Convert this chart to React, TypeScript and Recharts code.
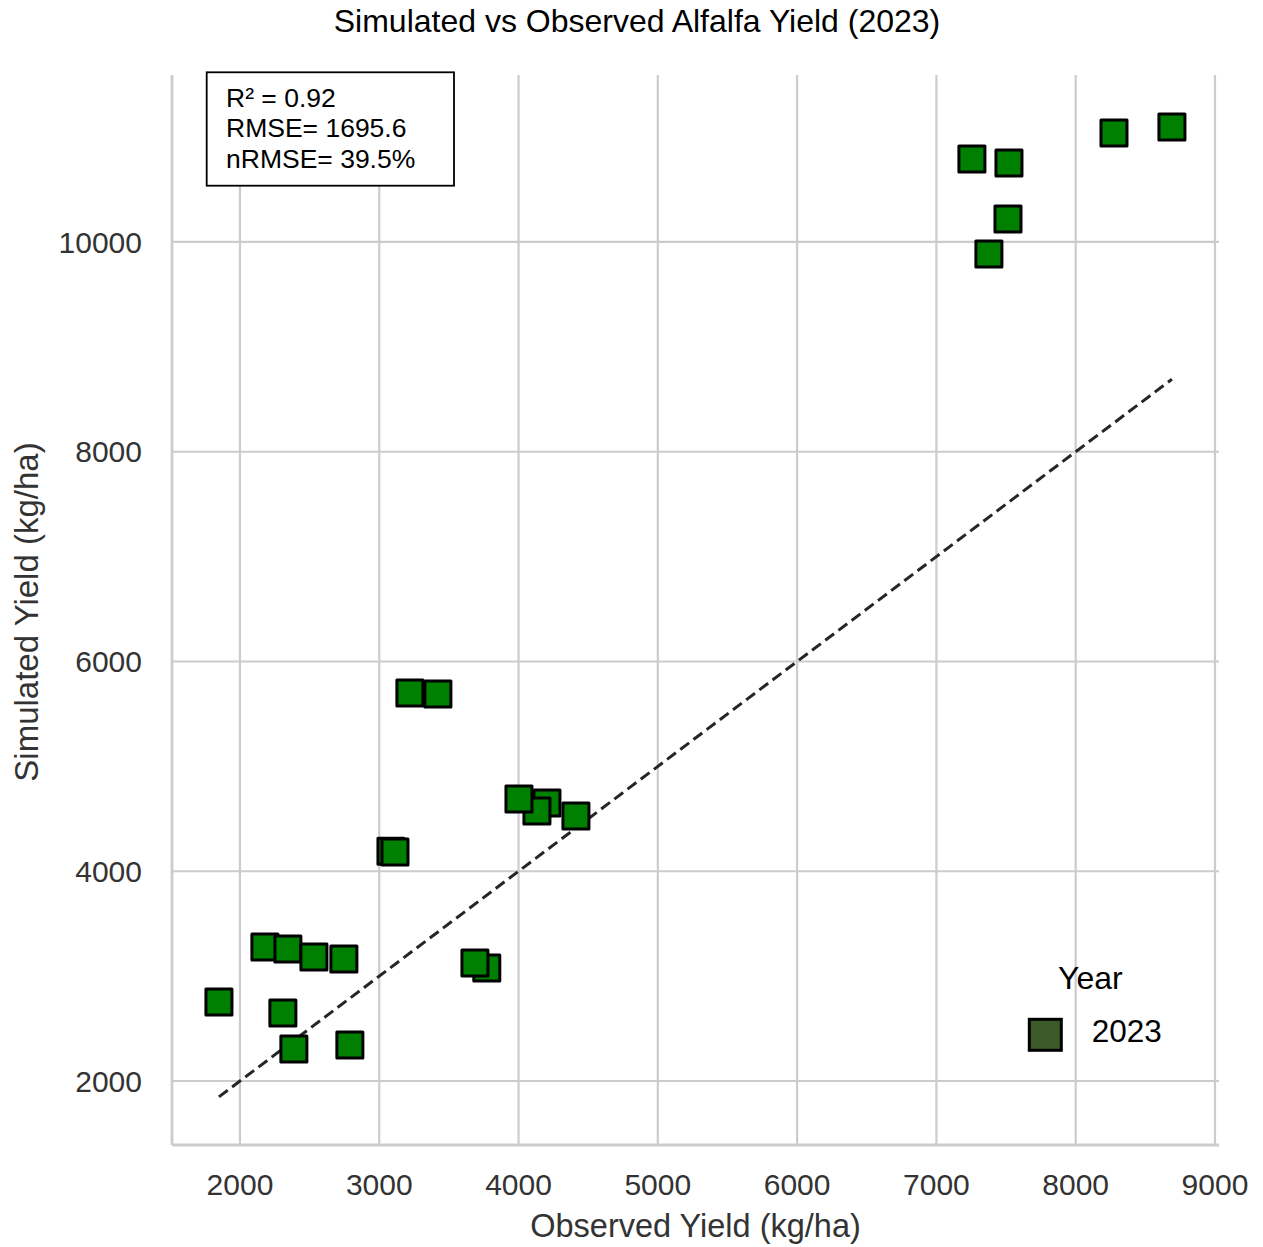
import React from 'react';
import { ScatterChart, Scatter, XAxis, YAxis, CartesianGrid, ReferenceLine } from 'recharts';

// observed vs simulated yield (kg/ha), 2023 season
const observed = [1849, 2179, 2344, 2531, 2746, 2308, 2387, 2789, 3084, 3113, 3220, 3421, 3772, 3687, 4204, 4132, 4003, 4412, 7255, 7521, 7514, 7377, 8275, 8691];
const simulated = [2753, 3278, 3259, 3183, 3164, 2649, 2305, 2343, 4190, 4184, 5700, 5690, 3077, 3125, 4651, 4574, 4689, 4527, 10791, 10753, 10219, 9886, 11039, 11097];

const xTicks = [2000, 3000, 4000, 5000, 6000, 7000, 8000, 9000];
const yTicks = [2000, 4000, 6000, 8000, 10000];
const statLines = ['R² = 0.92', 'RMSE= 1695.6', 'nRMSE= 39.5%'];
const legendTitle = 'Year';
const legendYear = '2023';

const points = observed.map((x, i) => ({ x, y: simulated[i] }));
const lo = Math.min(...observed);
const hi = Math.max(...observed);

const FONT = '"Liberation Sans", Arial, sans-serif';
const GRID = '#cccccc';

const SquareMark = (props: any) => {
    const { cx, cy } = props;
    if (cx == null || cy == null) return <g />;
    return (
        <rect x={cx - 13} y={cy - 13} width={26} height={26}
            fill="#008000" stroke="#000" strokeWidth={3} strokeLinejoin="round" />
    );
};

const XTitle = ({ viewBox }: any) => (
    <text x={viewBox.x + viewBox.width / 2} y={viewBox.y + viewBox.height - 3}
        textAnchor="middle" fill="#333" fontSize={32.5} fontFamily={FONT}>
        Observed Yield (kg/ha)
    </text>
);

const YTitle = ({ viewBox }: any) => {
    const x = viewBox.x + 18;
    const y = viewBox.y + viewBox.height / 2 + 2;
    return (
        <text x={x} y={y} dy="0.36em" transform={`rotate(-90, ${x}, ${y})`}
            textAnchor="middle" fill="#333" fontSize={33} fontFamily={FONT}>
            Simulated Yield (kg/ha)
        </text>
    );
};

export default function App() {
    return (
        <div style={{ position: 'relative', width: 1247, height: 1239, fontFamily: FONT }}>
            <ScatterChart width={1247} height={1239} margin={{ top: 67, right: 36, bottom: 7, left: 0 }}>
                <CartesianGrid stroke={GRID} strokeWidth={2.2} syncWithTicks />
                <XAxis type="number" dataKey="x" domain={[1512, 9029]} ticks={xTicks} interval={0}
                    allowDataOverflow height={95} tickSize={8} tickMargin={21} tickLine={false}
                    axisLine={{ stroke: GRID, strokeWidth: 2.8 }}
                    tick={{ fill: '#333', fontSize: 30, fontFamily: FONT }}
                    label={{ content: XTitle }} />
                <YAxis type="number" dataKey="y" domain={[1390, 11592]} ticks={yTicks} interval={0}
                    allowDataOverflow width={164} tickSize={8} tickMargin={22} tickLine={false}
                    axisLine={{ stroke: GRID, strokeWidth: 2.8 }}
                    tick={{ fill: '#333', fontSize: 30, fontFamily: FONT }}
                    label={{ content: YTitle }} />
                <Scatter data={points} shape={SquareMark} isAnimationActive={false} />
                <ReferenceLine segment={[{ x: lo, y: lo }, { x: hi, y: hi }]} ifOverflow="visible"
                    stroke="#262626" strokeWidth={3} strokeDasharray="11 5.5" />
            </ScatterChart>

            <svg width={1263} height={1247} style={{ position: 'absolute', left: -8, top: -8, pointerEvents: 'none' }}>
                <text x={637} y={31.7} textAnchor="middle" fontSize={32} fill="#000" fontFamily={FONT}>
                    Simulated vs Observed Alfalfa Yield (2023)
                </text>

                <rect x={206.7} y={72.3} width={247.3} height={113.4} fill="#fff" stroke="#000" strokeWidth={1.8} />
                {statLines.map((s, i) => (
                    <text key={s} x={226} y={106.5 + i * 30.5} fontSize={26.5} fill="#000" fontFamily={FONT}>{s}</text>
                ))}

                <text x={1058} y={989} fontSize={32} fill="#000" fontFamily={FONT}>{legendTitle}</text>
                <rect x={1029.3} y={1019.3} width={32} height={31} fill="#3c5a28" stroke="#000" strokeWidth={3} />
                <text x={1091.7} y={1041.7} fontSize={31.5} fill="#000" fontFamily={FONT}>{legendYear}</text>
            </svg>
        </div>
    );
}
